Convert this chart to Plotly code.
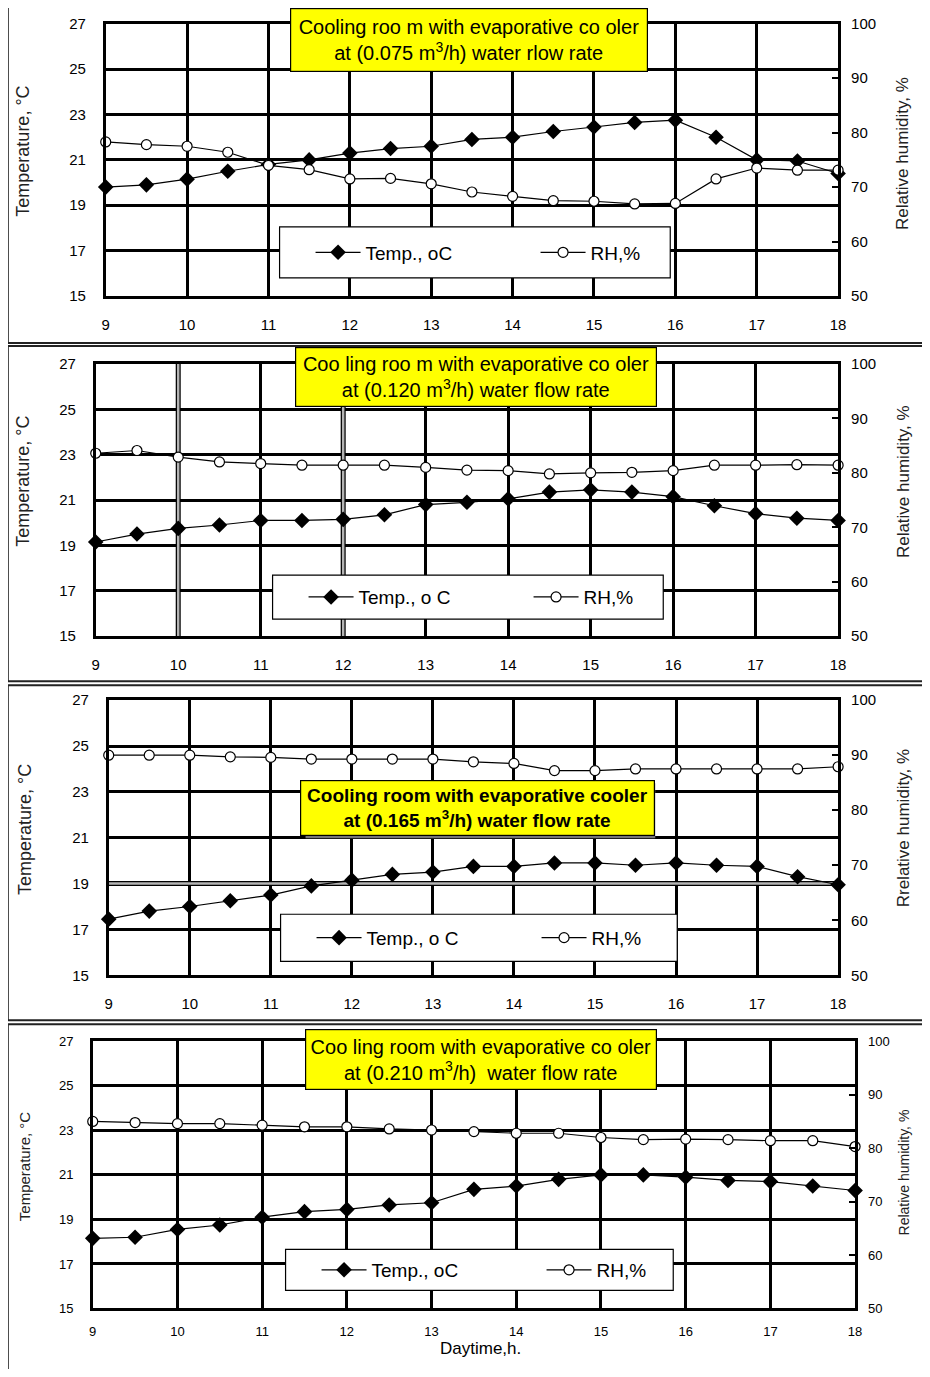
import plotly.graph_objects as go

# ---------------- data ----------------
hours = [9, 9.5, 10, 10.5, 11, 11.5, 12, 12.5, 13, 13.5, 14, 14.5, 15, 15.5, 16, 16.5, 17, 17.5, 18]
x_ticks = [9, 10, 11, 12, 13, 14, 15, 16, 17, 18]
temp_ticks = [15, 17, 19, 21, 23, 25, 27]
rh_ticks = [50, 60, 70, 80, 90, 100]

temp_075 = [19.8, 19.9, 20.15, 20.5, 20.8, 21.0, 21.3, 21.5, 21.6, 21.9, 22.0, 22.25, 22.45, 22.65, 22.75, 22.0, 21.0, 20.95, 20.4]
rh_075 = [78.3, 77.8, 77.5, 76.4, 74.0, 73.2, 71.5, 71.6, 70.6, 69.1, 68.3, 67.5, 67.4, 66.9, 67.0, 71.5, 73.5, 73.1, 73.1]

temp_120 = [19.15, 19.5, 19.75, 19.9, 20.1, 20.1, 20.15, 20.35, 20.8, 20.9, 21.05, 21.35, 21.45, 21.35, 21.15, 20.75, 20.4, 20.2, 20.1]
rh_120 = [83.6, 84.1, 82.9, 82.0, 81.7, 81.4, 81.4, 81.4, 81.0, 80.5, 80.4, 79.8, 80.0, 80.1, 80.4, 81.4, 81.4, 81.5, 81.4]

temp_165 = [17.45, 17.8, 18.0, 18.25, 18.5, 18.9, 19.15, 19.4, 19.5, 19.75, 19.75, 19.9, 19.9, 19.8, 19.9, 19.8, 19.75, 19.3, 18.95]
rh_165 = [90.0, 90.0, 90.0, 89.7, 89.6, 89.3, 89.3, 89.3, 89.3, 88.8, 88.5, 87.2, 87.2, 87.5, 87.5, 87.5, 87.5, 87.5, 87.9]

temp_210 = [18.15, 18.2, 18.55, 18.75, 19.1, 19.35, 19.45, 19.65, 19.75, 20.35, 20.5, 20.8, 21.0, 21.0, 20.9, 20.75, 20.7, 20.5, 20.3]
rh_210 = [85.0, 84.8, 84.6, 84.6, 84.3, 84.0, 84.0, 83.6, 83.4, 83.1, 82.8, 82.8, 82.0, 81.6, 81.7, 81.6, 81.4, 81.4, 80.3]

temp_names = ["Temp., oC", "Temp., o C", "Temp., o C", "Temp., oC"]
rh_name = "RH,%"
titles = [
    "Cooling roo m with evaporative co oler<br>at (0.075 m<sup>3</sup>/h) water rlow rate",
    "Coo ling roo m with evaporative co oler<br>at (0.120 m<sup>3</sup>/h) water flow rate",
    "<b>Cooling room with evaporative cooler<br>at (0.165 m<sup>3</sup>/h) water flow rate</b>",
    "Coo ling room with evaporative co oler<br>at (0.210 m<sup>3</sup>/h)  water flow rate",
]
left_titles = ["Temperature, °C"] * 4
right_titles = ["Relative humidity, %", "Relative humidity, %", "Rrelative humidity, %", "Relative humidity, %"]
temps = [temp_075, temp_120, temp_165, temp_210]
rhs = [rh_075, rh_120, rh_165, rh_210]

# ---------------- layout geometry (target picture pixels) ----------------
PAGE_W, PAGE_H = 930, 1377
OFF = 8                      # default body margin of the page
W, H = PAGE_W - 2 * OFF, PAGE_H - 2 * OFF
# empirical mapping between page pixels and the captured picture
SX, BX, SY, BY = 0.9877, 3.3, 0.987, 9.3
FONT = "Liberation Sans Narrow, Arial Narrow, Liberation Sans, Arial, sans-serif"


def px(x):
    return ((x - BX) / SX - OFF) / W


def py(y):
    return 1 - ((y - BY) / SY - OFF) / H


plots = [(105, 838, 24, 296), (95, 838, 364, 636), (108, 838, 700, 975), (92, 855, 1041, 1308)]
frames = [(7, 990, 5, 343), (7, 990, 346, 681), (7, 990, 685, 1020), (7, 990, 1024, 1420)]
legend_boxes = [(279, 670, 227, 278), (272, 663, 575, 619), (280, 677, 914, 961), (285, 673, 1249, 1290)]
title_boxes = [(292, 645, 9, 72), (297, 654, 348, 407), (302, 652, 780, 835), (307, 654, 1029, 1089)]
left_title_pos = [(22, 151), (22, 481), (24, 829), (24, 1166)]
right_title_pos = [(903, 154), (903, 482), (903, 828), (904, 1172)]
tick_sizes = [15, 15, 15, 13]
axis_title_sizes = [18, 18, 18, 15]
right_title_sizes = [17, 17, 17, 14]
xlabel_standoff = [13, 13, 13, 9]
title_font_sizes = [20, 20, 19, 20]

fig = go.Figure()
shapes = []
annotations = []
layout = dict(
    width=W, height=H, margin=dict(l=0, r=0, t=0, b=0),
    paper_bgcolor="white", plot_bgcolor="white",
    font=dict(family=FONT, color="black", size=15),
)

for i in range(4):
    n = i + 1
    xa = "xaxis" if n == 1 else f"xaxis{n}"
    xr = "x" if n == 1 else f"x{n}"
    yl, yr = 2 * n - 1, 2 * n
    yla = "yaxis" if yl == 1 else f"yaxis{yl}"
    ylr = "y" if yl == 1 else f"y{yl}"
    yra = f"yaxis{yr}"
    yrr = f"y{yr}"
    lg = "legend" if n == 1 else f"legend{n}"
    x0, x1, y0, y1 = plots[i]
    ts = tick_sizes[i]

    layout[xa] = dict(
        domain=[px(x0), px(x1)], anchor=ylr, range=[9, 18], tickvals=x_ticks,
        showgrid=True, gridcolor="black", gridwidth=3, zeroline=False,
        showline=True, linecolor="black", linewidth=2.5, mirror=True,
        ticks="", ticklabelstandoff=xlabel_standoff[i], tickfont=dict(size=ts, family=FONT),
    )
    layout[yla] = dict(
        domain=[py(y1), py(y0)], anchor=xr, range=[15, 27], tickvals=temp_ticks,
        showgrid=True, gridcolor="black", gridwidth=3, zeroline=False,
        showline=True, linecolor="black", linewidth=2.5, mirror=True,
        ticks="", ticklabelstandoff=14, tickfont=dict(size=ts, family=FONT),
    )
    layout[yra] = dict(
        domain=[py(y1), py(y0)], anchor=xr, overlaying=ylr, side="right",
        range=[50, 100], tickvals=rh_ticks, showgrid=False, zeroline=False,
        showline=False, ticks="inside", ticklen=6, tickcolor="black", tickwidth=1.5,
        ticklabelstandoff=12, tickfont=dict(size=ts, family=FONT),
    )

    fig.add_trace(go.Scatter(
        x=hours, y=temps[i], xaxis=xr, yaxis=ylr, name=temp_names[i], legend=lg,
        mode="lines+markers", cliponaxis=False,
        line=dict(color="black", width=1.2),
        marker=dict(symbol="diamond", size=12, color="black"),
    ))
    fig.add_trace(go.Scatter(
        x=hours, y=rhs[i], xaxis=xr, yaxis=yrr, name=rh_name, legend=lg,
        mode="lines+markers", cliponaxis=False,
        line=dict(color="black", width=1.2),
        marker=dict(symbol="circle", size=10, color="white", line=dict(color="black", width=1.2)),
    ))

    # panel frame
    fx0, fx1, fy0, fy1 = frames[i]
    shapes.append(dict(type="rect", xref="paper", yref="paper", x0=px(fx0), x1=px(fx1),
                       y0=py(fy1), y1=py(fy0), line=dict(color="#222", width=2), layer="below"))

    # legend box (white, covers the grid)
    lx0, lx1, ly0, ly1 = legend_boxes[i]
    shapes.append(dict(type="rect", xref="paper", yref="paper", x0=px(lx0), x1=px(lx1),
                       y0=py(ly1), y1=py(ly0), line=dict(color="black", width=1.2),
                       fillcolor="white", layer="above"))
    layout[lg] = dict(
        x=px(lx0 + 31), y=py((ly0 + ly1) / 2), xanchor="left", yanchor="middle",
        orientation="h", bgcolor="rgba(0,0,0,0)", borderwidth=0,
        font=dict(size=19, family=FONT), itemwidth=45,
        entrywidth=165, entrywidthmode="pixels",
    )

    # title box
    tx0, tx1, ty0, ty1 = title_boxes[i]
    if n == 3:
        shapes.append(dict(type="rect", xref="paper", yref="paper", x0=px(tx0 + 3), x1=px(tx1 + 3),
                           y0=py(ty1 + 3), y1=py(ty0 + 3), line=dict(width=0),
                           fillcolor="#777", layer="above"))
    annotations.append(dict(
        xref="paper", yref="paper", x=px((tx0 + tx1) / 2), y=py((ty0 + ty1) / 2),
        xanchor="center", yanchor="middle", showarrow=False, text=titles[i],
        width=(tx1 - tx0) / SX - 4, height=(ty1 - ty0) / SY - 4, bgcolor="#FFFF00",
        bordercolor="black", borderwidth=1.2, borderpad=1,
        font=dict(size=title_font_sizes[i], family=FONT, color="black"),
    ))

    # axis titles
    lxp, lyp = left_title_pos[i]
    annotations.append(dict(
        xref="paper", yref="paper", x=px(lxp), y=py(lyp),
        xanchor="center", yanchor="middle", showarrow=False, textangle=-90,
        text=left_titles[i], font=dict(size=axis_title_sizes[i], family=FONT, color="#222"),
    ))
    rxp, ryp = right_title_pos[i]
    annotations.append(dict(
        xref="paper", yref="paper", x=px(rxp), y=py(ryp),
        xanchor="center", yanchor="middle", showarrow=False, textangle=-90,
        text=right_titles[i], font=dict(size=right_title_sizes[i], family=FONT, color="#222"),
    ))

# special double grid lines (panel 2 verticals at 10 and 12, panel 3 horizontal at 19)
for xv in [10, 12]:
    shapes.append(dict(type="line", xref="x2", yref="y3", x0=xv, x1=xv, y0=15, y1=27,
                       line=dict(color="black", width=5), layer="between"))
    shapes.append(dict(type="line", xref="x2", yref="y3", x0=xv, x1=xv, y0=15, y1=27,
                       line=dict(color="#b4b4b4", width=2.5), layer="between"))
shapes.append(dict(type="line", xref="x3", yref="y5", x0=9, x1=18, y0=19, y1=19,
                   line=dict(color="black", width=5), layer="between"))
shapes.append(dict(type="line", xref="x3", yref="y5", x0=9, x1=18, y0=19, y1=19,
                   line=dict(color="#b4b4b4", width=2.5), layer="between"))

# x-axis title of bottom panel
annotations.append(dict(
    xref="paper", yref="paper", x=px(480), y=py(1348), xanchor="center", yanchor="middle",
    showarrow=False, text="Daytime,h.", font=dict(size=17, family=FONT, color="black"),
))

layout["shapes"] = shapes
layout["annotations"] = annotations
fig.update_layout(**layout)
fig.write_html("out.html", config={"displayModeBar": False})
